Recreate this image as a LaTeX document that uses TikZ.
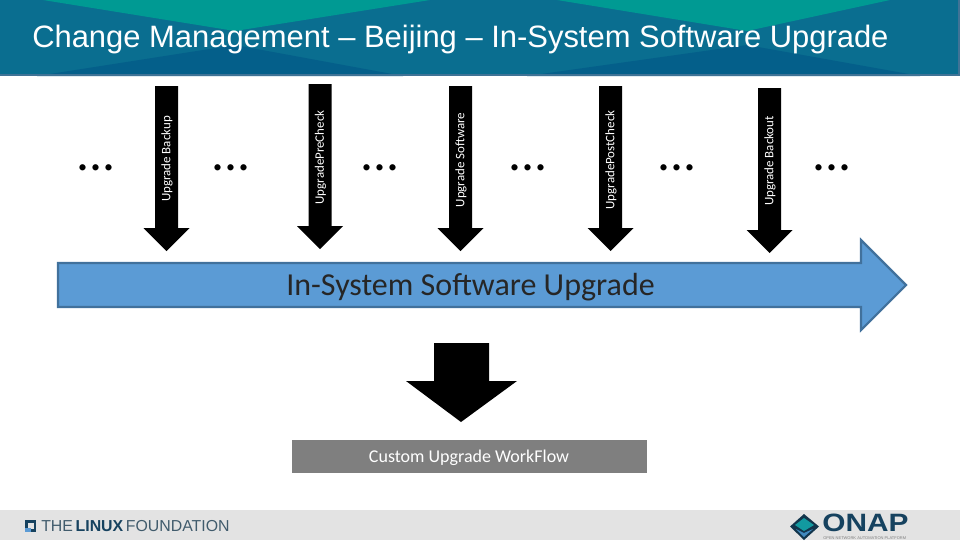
\documentclass[tikz,border=0pt]{standalone}
\usepackage{xcolor}
\usepackage{fontspec}
\setmainfont{Liberation Sans}
\newfontfamily\bodyfont{Carlito}
\usepackage{tikz}

\definecolor{headblue}{HTML}{0A6E90}
\definecolor{headdark}{HTML}{045F8A}
\definecolor{headteal}{HTML}{009A93}
\definecolor{headedge}{HTML}{3F7396}
\definecolor{arrowblue}{HTML}{5B9BD5}
\definecolor{arrowedge}{HTML}{41719C}
\definecolor{boxgrey}{HTML}{7F7F7F}
\definecolor{footgrey}{HTML}{E3E3E3}
\definecolor{logoblue}{HTML}{16425F}

\tikzset{
  steplabel/.style={draw=none, text=white, rotate=90, font=\bodyfont\fontsize{9.7}{11}\selectfont},
  gapdots/.style={draw=none, font=\bodyfont\fontsize{38.7}{40}\selectfont},
}

\begin{document}
\begin{tikzpicture}[x=.75pt, y=-.75pt]
  \useasboundingbox (0,0) rectangle (960,540);

  % header band
  \fill[headblue] (0,0) rectangle (960,76);
  \fill[headteal] (43,0) -- (430,0) -- (235,31) -- cycle;
  \fill[headteal] (557,0) -- (890,0) -- (747,31) -- cycle;
  \fill[headdark] (37,76) -- (235,45) -- (403,76) -- cycle;
  \fill[headdark] (527,76) -- (747,45) -- (920,76) -- cycle;
  \draw[headedge, line width=1.4pt] (0,75) -- (960,75);
  \draw[headedge, line width=1pt] (959,0) -- (959,76);
  \node[draw=none, anchor=base west, inner sep=0, text=white, font=\fontsize{23.2}{26}\selectfont] (title)
    at (32,47) {Change Management -- Beijing -- In-System Software Upgrade};

  % step arrows
  \foreach \cx/\ytop/\lab/\ylab/\nm in {
      166.5/86/Upgrade Backup/159/backup,
      320/84/UpgradePreCheck/157.5/precheck,
      460.5/86/Upgrade Software/160/software,
      610.5/86/UpgradePostCheck/160/postcheck,
      769.5/88/Upgrade Backout/161/backout} {
    \fill (\cx-11.5,\ytop) -- (\cx+11.5,\ytop) -- (\cx+11.5,\ytop+142) -- (\cx+23,\ytop+142)
      -- (\cx,\ytop+165) -- (\cx-23,\ytop+142) -- (\cx-11.5,\ytop+142) -- cycle;
    \node[steplabel] (\nm) at (\cx+.5,\ylab) {\lab};
  }

  % dots between the steps
  \foreach \cx/\nm in {96/a, 231/b, 380/c, 528/d, 677/e, 832/f}
    \node[gapdots] (dots\nm) at (\cx,168) {...};

  % main arrow
  \draw[fill=arrowblue, draw=arrowedge, line width=1.6pt]
    (58,263) -- (861,263) -- (861,240) -- (906,285) -- (861,330) -- (861,307) -- (58,307) -- cycle;
  \node[draw=none, text=black!85, font=\bodyfont\fontsize{24}{28}\selectfont] (upgrade) at (470.5,287.5) {In-System Software Upgrade};

  % lower arrow and box
  \fill (434,343) -- (489,343) -- (489,381) -- (517,381) -- (461,422) -- (406,381) -- (434,381) -- cycle;
  \fill[boxgrey] (292,440) rectangle (647,473);
  \node[draw=none, text=white, font=\bodyfont\fontsize{13.5}{15}\selectfont] (workflow) at (469,458) {Custom Upgrade WorkFlow};

  % footer
  \fill[footgrey] (0,510) rectangle (960,540);
  \fill[logoblue] (25,520) rectangle (36,532);
  \fill[footgrey] (28,523) rectangle (34,529);
  \fill[arrowblue] (25,528) rectangle (31,532);
  \node[draw=none, anchor=west, inner sep=0, text=logoblue!60!gray, font=\fontsize{11.9}{14}\selectfont] (foundation) at (41,526)
    {THE\,{\bfseries\textcolor{logoblue}{LINUX}}\,FOUNDATION};
  \fill[logoblue!80!black] (790,526.5) -- (804,514) -- (819,526.5) -- (804,540) -- cycle;
  \fill[headteal!80!arrowblue] (795,525) -- (804,518) -- (814,525) -- (804,531) -- cycle;
  \fill[arrowblue!70!headdark] (796,529) -- (804,533) -- (813,529) -- (804,537) -- cycle;
  \node[draw=none, anchor=west, inner sep=0, xscale=1.19, text=logoblue, font=\bfseries\fontsize{18.8}{19}\selectfont] (onap) at (822,523) {ONAP};
  \node[draw=none, anchor=west, inner sep=0, text=gray, font=\fontsize{3}{3.2}\selectfont] (onapsub) at (823,538) {OPEN NETWORK AUTOMATION PLATFORM};
\end{tikzpicture}
\end{document}
